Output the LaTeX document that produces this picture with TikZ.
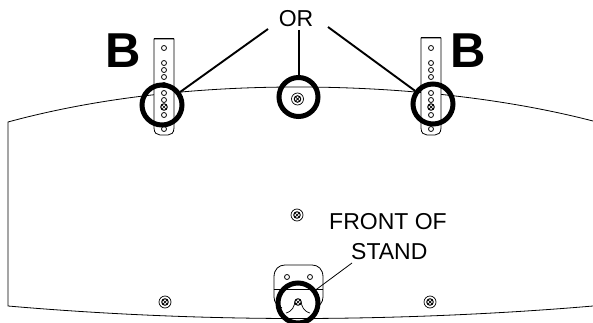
\documentclass[tikz,border=0pt]{standalone}
\usepackage{fontspec}
\setmainfont{Liberation Sans}
\begin{document}
\begin{tikzpicture}[x=1pt,y=-1pt,
  outline/.style={draw=black,line width=0.8pt},
  leader/.style={draw=black,line width=1.9pt},
  thinleader/.style={draw=black,line width=0.8pt},
  plate/.style={draw=black,line width=0.8pt,fill=white},
  hole/.style={circle,draw=black,line width=0.8pt,fill=white,inner sep=0pt,minimum size=5pt},
  ring/.style={circle,draw=black,line width=5pt,inner sep=0pt},
  lbl/.style={font=\fontsize{23}{25}\selectfont,inner sep=0pt,text=black},
  big/.style={font=\fontsize{49}{52}\selectfont\bfseries,inner sep=0pt,text=black},
  screwo/.style={circle,draw=black,line width=0.7pt,fill=white,inner sep=0pt,minimum size=12pt},
  screwi/.style={circle,draw=black,line width=1pt,inner sep=0pt,minimum size=6.5pt,path picture={\draw[line width=0.7pt] (path picture bounding box.north west)--(path picture bounding box.south east) (path picture bounding box.north east)--(path picture bounding box.south west);}}]
\useasboundingbox (0,0) rectangle (593,323);
\fill[white] (0,0) rectangle (593,323);
% table outline (open on the right)
\draw[outline] (593,121) .. controls (500,97) and (394,87) .. (297,87) .. controls (200,87) and (100,97) .. (8,122) -- (8,306) .. controls (100,314) and (200,318.5) .. (297,318.5) .. controls (394,318.5) and (500,314) .. (593,306);
% left bracket
\draw[plate] (154,39) -- (174,39) -- (174,128) .. controls (174,133) and (171,135) .. (168,135) -- (160,135) .. controls (157,135) and (154,133) .. (154,128) -- cycle;
\draw[line width=1.4pt] (154,38.5) -- (174,38.5);
\foreach \y in {48,63,70,77,85,93,100,115,129} \node[hole] at (164,\y) {};
% right bracket
\draw[plate] (421,38) -- (441,38) -- (441,128) .. controls (441,133) and (438,135) .. (435,135) -- (427,135) .. controls (424,135) and (421,133) .. (421,128) -- cycle;
\draw[line width=1.4pt] (421,37.5) -- (441,37.5);
\foreach \y in {48,63,70,77,93,100,115,129} \node[hole] at (431,\y) {};
% front plate
\draw[plate] (274,289) -- (274,277) .. controls (274,269) and (279,265) .. (285,265) -- (312,265) .. controls (318,265) and (323,269) .. (323,277) -- (323,289);
\draw[plate,fill=none] (274,289) -- (274,297) .. controls (274,303) and (278,306) .. (282,308);
\draw[plate,fill=none] (323,289) -- (323,297) .. controls (323,303) and (319,306) .. (315,308);
\draw[line width=0.8pt] (274,289) -- (323,289);
\node[hole] at (287,277) {};
\node[hole] at (310,277) {};
\draw[line width=0.7pt] (286,313) .. controls (293,311) and (294,306) .. (295,302);
\draw[line width=0.7pt] (310,313) .. controls (303,311) and (302,306) .. (301,302);
% screws
\node[screwi] (sl) at (164,107) {};
\node[screwi] (sr) at (431,107) {};
\node[screwo] (sc) at (297.5,99) {};\node[screwi] at (sc) {};
\node[screwo] (s1) at (297,215) {};\node[screwi] at (s1) {};
\node[screwo] (s2) at (165,302) {};\node[screwi] at (s2) {};
\node[screwo] (s3) at (430,302) {};\node[screwi] at (s3) {};
\node[screwi] (s4) at (298,302) {};
% rings
\node[ring,minimum size=40pt] (rl) at (162,105) {};
\node[ring,minimum size=40pt] (rr) at (433,104) {};
\node[ring,minimum size=39pt] (rc) at (298.5,97) {};
\node[ring,minimum size=40pt] (rb) at (298,303) {};
% labels
\node[lbl,anchor=base] (or) at (296,27) {OR};
\node[big,anchor=base] (bl) at (123,68) {B};
\node[big,anchor=base] (br) at (468,68) {B};
\node[lbl,anchor=base west] (f1) at (329,229) {FRONT OF};
\node[lbl,anchor=base west] (f2) at (351,259) {STAND};
% connector free ends
\coordinate (ol) at (268,29);
\coordinate (or2) at (328,27);
\coordinate (oc) at (299,30);
\coordinate (fs) at (352,263);
\draw[leader] (ol) -- (rl);
\draw[leader] (or2) -- (rr);
\draw[leader] (oc) -- (oc |- rc.north);
\draw[thinleader] (fs) -- (rb);
\end{tikzpicture}
\end{document}
